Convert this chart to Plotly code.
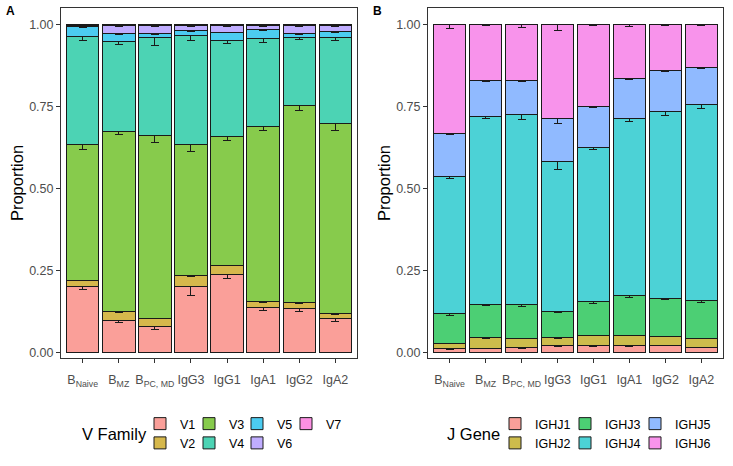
import plotly.graph_objects as go

# ---------------- data ----------------
categories = ["B<sub>Naive</sub>", "B<sub>MZ</sub>", "B<sub>PC, MD</sub>", "IgG3", "IgG1", "IgA1", "IgG2", "IgA2"]

v_families = ["V1", "V2", "V3", "V4", "V5", "V6", "V7"]
v1 = [0.200, 0.098, 0.078, 0.201, 0.236, 0.136, 0.134, 0.102]
v2 = [0.020, 0.025, 0.026, 0.034, 0.029, 0.018, 0.018, 0.015]
v3 = [0.412, 0.549, 0.557, 0.398, 0.393, 0.535, 0.601, 0.580]
v4 = [0.331, 0.276, 0.299, 0.334, 0.293, 0.269, 0.208, 0.264]
v5 = [0.029, 0.025, 0.013, 0.013, 0.025, 0.025, 0.012, 0.018]
v6 = [0.005, 0.024, 0.024, 0.017, 0.021, 0.014, 0.024, 0.018]
v7 = [0.003, 0.002, 0.003, 0.003, 0.002, 0.003, 0.002, 0.003]
v1_se = [0.008, 0.0075, 0.008, 0.027, 0.012, 0.008, 0.010, 0.0095]
v2_se = [0.002, 0.002, 0.002, 0.005, 0.002, 0.002, 0.002, 0.002]
v3_se = [0.014, 0.009, 0.022, 0.022, 0.012, 0.014, 0.017, 0.021]
v4_se = [0.014, 0.010, 0.025, 0.016, 0.010, 0.014, 0.009, 0.012]
v5_se = [0.003, 0.003, 0.003, 0.003, 0.002, 0.003, 0.003, 0.003]
v6_se = [0.003, 0.003, 0.003, 0.004, 0.003, 0.003, 0.003, 0.003]
v7_se = [0.0, 0.0, 0.0, 0.0, 0.0, 0.0, 0.0, 0.0]

j_genes = ["IGHJ1", "IGHJ2", "IGHJ3", "IGHJ4", "IGHJ5", "IGHJ6"]
j1 = [0.010, 0.013, 0.014, 0.020, 0.020, 0.020, 0.022, 0.016]
j2 = [0.017, 0.031, 0.029, 0.024, 0.032, 0.032, 0.027, 0.027]
j3 = [0.092, 0.103, 0.103, 0.079, 0.103, 0.122, 0.115, 0.116]
j4 = [0.417, 0.572, 0.580, 0.459, 0.470, 0.539, 0.570, 0.595]
j5 = [0.130, 0.108, 0.103, 0.131, 0.123, 0.122, 0.126, 0.114]
j6 = [0.334, 0.173, 0.171, 0.287, 0.252, 0.165, 0.140, 0.132]
j1_se = [0.001, 0.001, 0.002, 0.002, 0.001, 0.002, 0.002, 0.001]
j2_se = [0.001, 0.001, 0.002, 0.002, 0.001, 0.001, 0.002, 0.001]
j3_se = [0.006, 0.003, 0.006, 0.003, 0.006, 0.006, 0.003, 0.006]
j4_se = [0.007, 0.007, 0.015, 0.024, 0.007, 0.008, 0.011, 0.010]
j5_se = [0.003, 0.002, 0.005, 0.017, 0.002, 0.004, 0.005, 0.004]
j6_se = [0.014, 0.005, 0.009, 0.019, 0.004, 0.006, 0.005, 0.003]

y_ticks = [0, 0.25, 0.5, 0.75, 1.0]
y_ticktext = ["0.00", "0.25", "0.50", "0.75", "1.00"]

# ---------------- styling ----------------
v_colors = ["#FA9F99", "#D6B84C", "#87CB4C", "#4CD3B4", "#4CCCF1", "#C0ADFF", "#FC90E3"]
j_colors = ["#FA9F99", "#CDBC4C", "#4CCF74", "#4CD2D6", "#90BAFF", "#F893EB"]
FONT = "Liberation Sans, Arial, sans-serif"
W, H = 733, 466

def px_x(p):
    return p / W

def px_y(p):
    return 1 - p / H

fig = go.Figure()

# legend columns: two entries per column (column-major, like the reference)
v_legend_ids = ["legend", "legend", "legend2", "legend2", "legend3", "legend3", "legend4"]
j_legend_ids = ["legend5", "legend5", "legend6", "legend6", "legend7", "legend7"]

v_vals = [v1, v2, v3, v4, v5, v6, v7]
v_ses = [v1_se, v2_se, v3_se, v4_se, v5_se, v6_se, v7_se]
for i, name in enumerate(v_families):
    fig.add_trace(go.Bar(
        x=categories, y=v_vals[i], name=name, xaxis="x", yaxis="y",
        marker=dict(color=v_colors[i], line=dict(color="#1a1a1a", width=1)),
        width=0.9, legend=v_legend_ids[i],
        error_y=dict(type="data", symmetric=False, array=[0] * len(categories),
                     arrayminus=v_ses[i], color="#1a1a1a", thickness=1, width=4),
    ))

j_vals = [j1, j2, j3, j4, j5, j6]
j_ses = [j1_se, j2_se, j3_se, j4_se, j5_se, j6_se]
for i, name in enumerate(j_genes):
    fig.add_trace(go.Bar(
        x=categories, y=j_vals[i], name=name, xaxis="x2", yaxis="y2",
        marker=dict(color=j_colors[i], line=dict(color="#1a1a1a", width=1)),
        width=0.9, legend=j_legend_ids[i],
        error_y=dict(type="data", symmetric=False, array=[0] * len(categories),
                     arrayminus=j_ses[i], color="#1a1a1a", thickness=1, width=4),
    ))

xcommon = dict(range=[-0.6, 7.6], showgrid=False, zeroline=False, showline=True, mirror=True,
               linecolor="#333333", linewidth=1, ticks="outside", ticklen=4, tickwidth=1,
               tickcolor="#333333", tickangle=0, automargin=False, ticklabelstandoff=6,
               tickfont=dict(family=FONT, size=12.5, color="#4D4D4D"), fixedrange=True)
ycommon = dict(range=[-0.0175, 1.0495], showgrid=False, zeroline=False, showline=True, mirror=True,
               linecolor="#333333", linewidth=1, ticks="outside", ticklen=4, tickwidth=1,
               tickcolor="#333333", automargin=False,
               tickfont=dict(family=FONT, size=12.5, color="#4D4D4D"),
               tickvals=y_ticks, ticktext=y_ticktext,
               title=dict(text="Proportion", font=dict(family=FONT, size=16.5, color="#000000"), standoff=1))

def legend_at(left_px):
    return dict(orientation="v", x=px_x(left_px), y=px_y(409), xanchor="left", yanchor="top",
                traceorder="normal", bgcolor="rgba(0,0,0,0)", tracegroupgap=0,
                font=dict(family=FONT, size=12.5, color="#000000"))

layout_legends = {}
v_col_lefts = [140, 189, 237, 286]
j_col_lefts = [495, 565, 635]
for k, left in enumerate(v_col_lefts):
    layout_legends["legend" if k == 0 else "legend%d" % (k + 1)] = legend_at(left)
for k, left in enumerate(j_col_lefts):
    layout_legends["legend%d" % (k + 5)] = legend_at(left)

fig.update_layout(
    width=W, height=H, margin=dict(l=0, r=0, t=0, b=0, pad=0, autoexpand=False),
    paper_bgcolor="white", plot_bgcolor="white",
    barmode="stack", showlegend=True,
    font=dict(family=FONT),
    xaxis=dict(domain=[px_x(61), px_x(357)], anchor="y", **xcommon),
    yaxis=dict(domain=[px_y(358), px_y(8)], anchor="x", **ycommon),
    xaxis2=dict(domain=[px_x(428), px_x(723)], anchor="y2", **xcommon),
    yaxis2=dict(domain=[px_y(358), px_y(8)], anchor="x2", **ycommon),
    annotations=[
        dict(text="<b>A</b>", x=px_x(4), y=px_y(11), xref="paper", yref="paper", xanchor="left",
             yanchor="middle", showarrow=False, font=dict(family=FONT, size=12, color="#000000")),
        dict(text="<b>B</b>", x=px_x(371), y=px_y(11), xref="paper", yref="paper", xanchor="left",
             yanchor="middle", showarrow=False, font=dict(family=FONT, size=12, color="#000000")),
        dict(text="V Family", x=px_x(80), y=px_y(434), xref="paper", yref="paper", xanchor="left",
             yanchor="middle", showarrow=False, font=dict(family=FONT, size=16.5, color="#000000")),
        dict(text="J Gene", x=px_x(445), y=px_y(434), xref="paper", yref="paper", xanchor="left",
             yanchor="middle", showarrow=False, font=dict(family=FONT, size=16.5, color="#000000")),
    ],
    **layout_legends,
)

fig.write_html("out.html", config={"displayModeBar": False},
               post_script="document.body.style.margin='0';")
